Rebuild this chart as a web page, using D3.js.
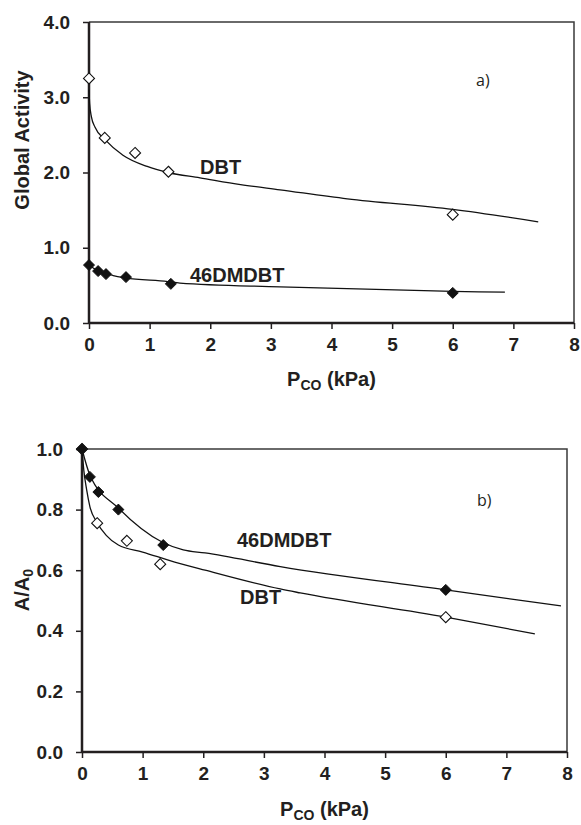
<!DOCTYPE html>
<html><head><meta charset="utf-8">
<script src="https://cdn.jsdelivr.net/npm/d3@7"></script>
<style>body{margin:0;background:#fff}svg{display:block}</style>
</head><body>
<svg id="c" width="581" height="825"></svg>
<script>
// ---------- data ----------
const xTicks = [0,1,2,3,4,5,6,7,8];
const yTicksA = [0,1,2,3,4];
const yTicksB = [0,0.2,0.4,0.6,0.8,1.0];

// panel a) measured points
const pcoA_DBT = [0, 0.26, 0.76, 1.31, 6.0];
const actA_DBT = [3.25, 2.46, 2.26, 2.01, 1.44];
const pcoA_46 = [0, 0.15, 0.28, 0.61, 1.35, 6.0];
const actA_46 = [0.77, 0.69, 0.65, 0.61, 0.52, 0.40];
// panel a) fitted curves (read from picture)
const fitA_DBT_x = [0, 0.01, 0.04, 0.1, 0.26, 0.56, 0.96, 1.3, 1.83, 2.5, 3.15, 4.26, 6.0, 7.41];
const fitA_DBT_y = [3.1, 2.92, 2.74, 2.6, 2.44, 2.23, 2.08, 2.0, 1.93, 1.84, 1.77, 1.65, 1.51, 1.345];
const fitA_46_x = [0, 0.13, 0.4, 0.6, 1.3, 1.5, 3.15, 6.0, 6.86];
const fitA_46_y = [0.77, 0.70, 0.63, 0.60, 0.55, 0.53, 0.48, 0.42, 0.41];

// panel b) measured points
const pcoB_DBT = [0, 0.25, 0.74, 1.29, 6.0];
const relB_DBT = [1.0, 0.755, 0.697, 0.62, 0.445];
const pcoB_46 = [0, 0.13, 0.27, 0.6, 1.34, 6.0];
const relB_46 = [1.0, 0.908, 0.858, 0.80, 0.683, 0.535];
// panel b) fitted curves
const fitB_DBT_x = [0, 0.03, 0.077, 0.13, 0.24, 0.4, 0.6, 1.0, 1.53, 2.03, 3.27, 3.6, 6.0, 7.47];
const fitB_DBT_y = [1.0, 0.93, 0.865, 0.81, 0.76, 0.715, 0.683, 0.66, 0.627, 0.60, 0.538, 0.525, 0.445, 0.39];
const fitB_46_x = [0, 0.13, 0.6, 1.32, 1.67, 2.03, 3.27, 6.0, 7.9];
const fitB_46_y = [1.0, 0.914, 0.805, 0.693, 0.667, 0.657, 0.612, 0.535, 0.482];

// ---------- drawing ----------
const svg = d3.select("#c");
const FONT = "'Liberation Sans', Arial, sans-serif";
const INK = "#231f20";

function diamond(r){ return `M0,${-r}L${r},0L0,${r}L${-r},0Z`; }

function panel(opt){
  const {L,T,R,B,yDomain,yTicks,yFmt} = opt;
  const x = d3.scaleLinear().domain([0,8]).range([L,R]);
  const y = d3.scaleLinear().domain(yDomain).range([B,T]);
  const g = svg.append("g");

  g.append("path").attr("d",`M${L},${T}H${R}V${B}`).attr("fill","none")
    .attr("stroke","#3a3a3a").attr("stroke-width",1.5);

  const xa = g.append("g").attr("transform",`translate(0,${B})`)
    .call(d3.axisBottom(x).tickValues(xTicks).tickFormat(d3.format("d")).tickSize(6).tickPadding(9));
  const ya = g.append("g").attr("transform",`translate(${L},0)`)
    .call(d3.axisLeft(y).tickValues(yTicks).tickFormat(yFmt).tickSize(6).tickPadding(13));
  [xa,ya].forEach(a=>{
    a.select(".domain").attr("stroke",INK).attr("stroke-width",2.5);
    a.selectAll(".tick line").attr("stroke",INK).attr("stroke-width",1.5);
    a.selectAll(".tick text").attr("fill",INK).attr("font-family",FONT)
      .attr("font-weight","bold").attr("font-size",19);
  });
  xa.select(".domain").attr("d",`M${L},0H${R}`);
  ya.select(".domain").attr("d",`M0,${B}V${T}`);

  const line = d3.line().x(d=>x(d[0])).y(d=>y(d[1])).curve(d3.curveMonotoneX);
  opt.fits.forEach(f=>{
    g.append("path").datum(d3.zip(f[0],f[1])).attr("d",line)
      .attr("fill","none").attr("stroke","#111").attr("stroke-width",1.3);
  });
  opt.pts.forEach(p=>{
    g.selectAll(null).data(d3.zip(p.x,p.y)).join("path")
      .attr("d",diamond(5.5))
      .attr("transform",d=>`translate(${x(d[0])},${y(d[1])})`)
      .attr("fill",p.filled?"#111":"#fff").attr("stroke","#111").attr("stroke-width",p.filled?1:1.1);
  });
  opt.labels.forEach(l=>{
    g.append("text").attr("x",l.x).attr("y",l.y).text(l.t)
      .attr("font-family",l.reg?"'Open Sans', sans-serif":FONT)
      .attr("font-weight",l.reg?"normal":"bold").attr("font-size",l.size).attr("fill",INK);
  });
  const xt = g.append("text").attr("x",(L+R)/2).attr("y",opt.xTitleY).attr("text-anchor","middle")
    .attr("font-family",FONT).attr("font-weight","bold").attr("font-size",20).attr("fill",INK);
  xt.append("tspan").text("P");
  xt.append("tspan").text("CO").attr("font-size",14).attr("dy",4);
  xt.append("tspan").text(" (kPa)").attr("dy",-4);
  return {x,y,g};
}

const a = panel({L:89,T:22,R:574,B:323,yDomain:[0,4],yTicks:yTicksA,yFmt:d3.format(".1f"),
  fits:[[fitA_DBT_x,fitA_DBT_y],[fitA_46_x,fitA_46_y]],
  pts:[{x:pcoA_DBT,y:actA_DBT,filled:false},{x:pcoA_46,y:actA_46,filled:true}],
  labels:[{t:"DBT",x:200,y:174,size:20},{t:"46DMDBT",x:190,y:282,size:20},{t:"a)",x:476,y:86,size:16,reg:true}],
  xTitleY:386});
a.g.append("text").attr("transform","translate(29,140) rotate(-90)").attr("text-anchor","middle")
  .attr("font-family",FONT).attr("font-weight","bold").attr("font-size",20).attr("fill",INK)
  .text("Global Activity");

const b = panel({L:82,T:449,R:567,B:752,yDomain:[0,1],yTicks:yTicksB,yFmt:d3.format(".1f"),
  fits:[[fitB_DBT_x,fitB_DBT_y],[fitB_46_x,fitB_46_y]],
  pts:[{x:pcoB_DBT,y:relB_DBT,filled:false},{x:pcoB_46,y:relB_46,filled:true}],
  labels:[{t:"46DMDBT",x:237,y:547,size:20},{t:"DBT",x:240,y:604,size:20},{t:"b)",x:477,y:506,size:16,reg:true}],
  xTitleY:816});
const yl = b.g.append("text").attr("transform","translate(29,590) rotate(-90)").attr("text-anchor","middle")
  .attr("font-family",FONT).attr("font-weight","bold").attr("font-size",20).attr("fill",INK);
yl.append("tspan").text("A/A");
yl.append("tspan").text("0").attr("font-size",14).attr("dy",4);
</script>
</body></html>
